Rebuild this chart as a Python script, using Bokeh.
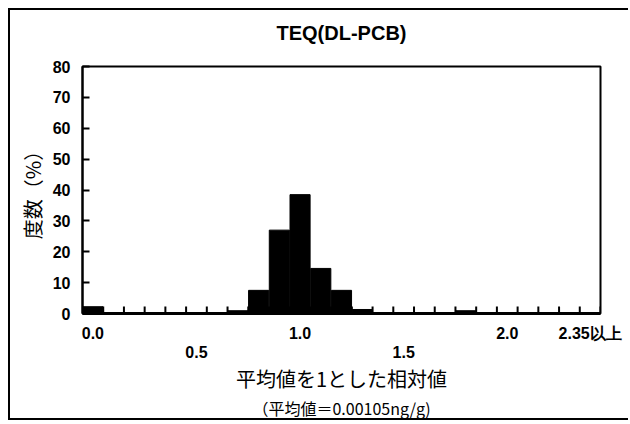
from bokeh.plotting import figure
from bokeh.models import LinearAxis, FixedTicker, Range1d, Title, ColumnDataSource
from bokeh.embed import file_html
from bokeh.resources import INLINE

# ---- data ----
categories = ["0.0", "0.1", "0.2", "0.3", "0.4", "0.5", "0.6", "0.7", "0.8", "0.9",
              "1.0", "1.1", "1.2", "1.3", "1.4", "1.5", "1.6", "1.7", "1.8", "1.9",
              "2.0", "2.1", "2.2", "2.3", "2.35以上"]
frequency = [2.2, 0, 0, 0, 0, 0, 0, 0.9, 7.5, 27.0,
             38.5, 14.6, 7.5, 1.3, 0, 0, 0, 0, 0.9, 0,
             0, 0, 0, 0, 0]
row1_labels = ["0.0", "1.0", "2.0", "2.35以上"]
row2_labels = ["0.5", "1.5"]
y_ticks = [0, 10, 20, 30, 40, 50, 60, 70, 80]

title_text = "TEQ(DL-PCB)"
x_title = "平均値を1とした相対値"
x_subtitle = "（平均値＝0.00105ng/g)"
y_title = "度数（%）"

n = len(categories)
xs = list(range(n))
src = ColumnDataSource(dict(x=xs, top=frequency, cat=categories))

LAT = "Liberation Sans"
CJK = "Noto Sans CJK JP"

Y_MAX = y_ticks[-1]
FRAME_H = 247  # px, plot-area height
PX = Y_MAX / FRAME_H  # data units per pixel

p = figure(width=620, height=412, output_backend="svg", toolbar_location=None,
           x_range=Range1d(-0.5, n - 0.5), y_range=Range1d(0, Y_MAX),
           min_border_left=72, min_border_right=30, min_border_top=56,
           min_border_bottom=109, x_axis_type=None)
p.styles = {"margin-left": "8px", "margin-top": "8px",
            "border-left": "2px solid black", "border-top": "2px solid black",
            "border-bottom": "2px solid black"}
p.background_fill_color = "white"
p.border_fill_color = "white"
p.grid.visible = False
p.outline_line_color = "black"
p.outline_line_width = 2
p.outline_line_alpha = 1

p.vbar(x="x", top="top", width=0.97, bottom=0, source=src,
       fill_color="black", line_color="black")

# inward ticks at bin boundaries
bounds = [i - 0.5 for i in range(n + 1)]
p.segment(x0=bounds, y0=[0] * len(bounds), x1=bounds, y1=[7 * PX] * len(bounds),
          line_color="black", line_width=2)

# chart title carried by an empty axis above the plot area
ta = LinearAxis(ticker=FixedTicker(ticks=[]))
ta.axis_line_color = None
ta.major_tick_line_color = None
ta.minor_tick_line_color = None
ta.axis_label = title_text
ta.axis_label_text_font = LAT
ta.axis_label_text_font_size = "20px"
ta.axis_label_text_font_style = "bold"
ta.axis_label_text_color = "black"
ta.axis_label_standoff = 23
p.add_layout(ta, "above")

# y axis
ya = p.yaxis[0]
ya.ticker = FixedTicker(ticks=y_ticks)
ya.axis_line_width = 2
ya.axis_line_color = "black"
ya.major_tick_in = 7
ya.major_tick_out = 0
ya.major_tick_line_width = 2
ya.minor_tick_line_color = None
ya.major_label_text_font = LAT
ya.major_label_text_font_style = "bold"
ya.major_label_text_font_size = "16px"
ya.major_label_text_color = "black"
ya.major_label_standoff = 12
ya.axis_label = y_title
ya.axis_label_text_font = CJK
ya.axis_label_text_font_style = "normal"
ya.axis_label_text_font_size = "20px"
ya.axis_label_text_color = "black"
ya.axis_label_standoff = 3


def label_axis(labels, standoff):
    idx = [categories.index(l) for l in labels]
    ax = LinearAxis(ticker=FixedTicker(ticks=idx),
                    major_label_overrides={i: categories[i] for i in idx})
    ax.major_tick_line_color = None
    ax.minor_tick_line_color = None
    ax.major_tick_out = 0
    ax.major_tick_in = 0
    ax.major_label_text_font = LAT
    ax.major_label_text_font_style = "bold"
    ax.major_label_text_font_size = "16px"
    ax.major_label_text_color = "black"
    ax.major_label_standoff = standoff
    return ax

xa = label_axis(row1_labels, 11)
xa.axis_line_width = 3
xa.axis_line_color = "black"
p.add_layout(xa, "below")

xb = label_axis(row2_labels, 1)
xb.axis_line_color = None
p.add_layout(xb, "below")

t1 = Title(text=x_title, align="center", text_font=CJK, text_font_size="20px",
           text_font_style="normal", text_color="black", standoff=2)
t2 = Title(text=x_subtitle, align="center", text_font=CJK, text_font_size="16px",
           text_font_style="normal", text_color="black", standoff=0)
p.add_layout(t1, "below")
p.add_layout(t2, "below")

open("out.html", "w").write(file_html(p, INLINE))
